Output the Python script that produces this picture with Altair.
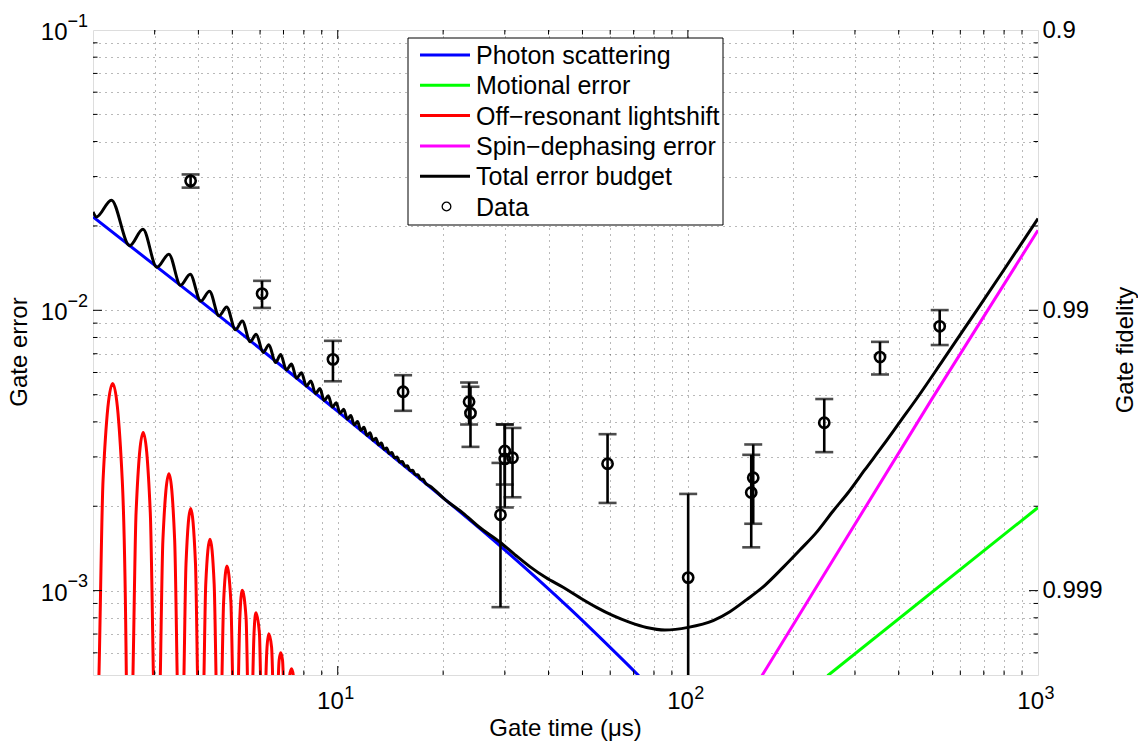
import altair as alt
import pandas as pd

# ---------------- data ----------------
x_domain = [2, 1000]
y_domain = [5e-4, 0.1]

photon_t = [2.0, 4.034, 10.0, 17.15, 29.03, 46.02, 72.44]
photon_e = [0.02153, 0.01085, 4.357e-3, 2.512e-3, 1.447e-3, 8.62e-4, 4.97e-4]

motional_t = [250.6, 1000]
motional_e = [4.97e-4, 1.98e-3]

dephasing_t = [162.7, 496.9, 1000]
dephasing_e = [4.97e-4, 4.81e-3, 0.0193]

lightshift_t = [2.0, 2.080, 2.137, 2.276, 2.424, 2.490, 2.512, 2.601, 2.655, 2.782, 2.915, 2.975,
                3.044, 3.114, 3.167, 3.296, 3.422, 3.479, 3.557, 3.638, 3.687, 3.802, 3.924, 3.976,
                4.061, 4.150, 4.198, 4.317, 4.437, 4.491, 4.581, 4.672, 4.721, 4.825, 4.953, 5.006,
                5.105, 5.208, 5.252, 5.335, 5.474, 5.521, 5.623, 5.724, 5.767, 5.838, 5.975, 6.017,
                6.125, 6.238, 6.281, 6.355, 6.473, 6.516, 6.642, 6.770, 6.802, 6.873, 6.955, 6.988,
                7.134, 7.294, 7.379, 7.463, 7.6]
lightshift_e = [1e-4, 5e-4, 2.487e-3, 5.487e-3, 2.487e-3, 5e-4, 1e-4, 5e-4, 1.899e-3, 3.666e-3, 1.899e-3, 5e-4,
                1e-4, 5e-4, 1.512e-3, 2.611e-3, 1.512e-3, 5e-4, 1e-4, 5e-4, 1.248e-3, 1.963e-3, 1.248e-3, 5e-4,
                1e-4, 5e-4, 1.055e-3, 1.525e-3, 1.055e-3, 5e-4, 1e-4, 5e-4, 9.10e-4, 1.223e-3, 9.10e-4, 5e-4,
                1e-4, 5e-4, 7.96e-4, 1.0025e-3, 7.96e-4, 5e-4, 1e-4, 5e-4, 7.05e-4, 8.345e-4, 7.05e-4, 5e-4,
                1e-4, 5e-4, 6.27e-4, 7.02e-4, 6.27e-4, 5e-4, 1e-4, 5e-4, 5.65e-4, 6.007e-4, 5.65e-4, 5e-4,
                1e-4, 5e-4, 5.265e-4, 5e-4, 1e-4]

total_t = [2.000, 2.045, 2.257, 2.545, 2.778, 3.044, 3.294, 3.557, 3.790, 4.061,
           4.302, 4.581, 4.818, 5.105, 5.338, 5.623, 5.850, 6.125, 6.359, 6.642,
           6.873, 7.134, 7.379, 7.626, 7.881, 8.134, 8.383, 8.641, 8.895, 9.149,
           9.400, 9.651, 9.902, 10.153, 10.402, 10.651, 10.899, 11.147, 11.390, 11.632,
           11.880, 12.125, 12.367, 12.605, 12.849, 13.088, 13.322, 13.56, 13.796, 14.03,
           14.275, 14.52, 14.77, 15.03, 15.29, 15.55, 15.82, 16.09, 16.37, 16.65,
           16.94, 17.23, 17.53, 17.83,
           18.32, 20.35, 22.80, 25.45, 29.03, 32.04, 35.38, 39.29, 44.02,
           49.13, 54.84, 61.17, 68.29, 76.21, 85.97, 100.2, 118.1, 131.8, 147.2,
           166.0, 186.8, 208.9, 233.7, 259.6, 287.1, 320.4, 360.8, 403.4, 450.1,
           535.4, 639.2, 799.6, 1000]
total_e = [0.02244, 0.02154, 0.02471, 0.01700, 0.01947, 0.014237, 0.015849, 0.012284, 0.013446, 0.010786,
           0.011692, 9.559e-3, 0.010275, 8.525e-3, 9.158e-3, 7.731e-3, 8.210e-3, 7.070e-3, 7.543e-3, 6.510e-3,
           6.949e-3, 6.125e-3, 6.429e-3, 5.727e-3, 5.991e-3, 5.365e-3, 5.600e-3, 5.044e-3, 5.256e-3, 4.767e-3,
           4.955e-3, 4.515e-3, 4.682e-3, 4.291e-3, 4.434e-3, 4.088e-3, 4.211e-3, 3.901e-3, 4.009e-3, 3.734e-3,
           3.824e-3, 3.578e-3, 3.655e-3, 3.439e-3, 3.499e-3, 3.311e-3, 3.360e-3, 3.194e-3, 3.228e-3, 3.083e-3,
           3.111e-3, 2.978e-3, 3.000e-3, 2.874e-3, 2.891e-3, 2.777e-3, 2.788e-3, 2.680e-3, 2.687e-3, 2.590e-3,
           2.592e-3, 2.500e-3, 2.495e-3, 2.413e-3,
           2.361e-3, 2.104e-3, 1.891e-3, 1.679e-3, 1.491e-3, 1.345e-3, 1.218e-3, 1.113e-3, 1.0275e-3,
           9.44e-4, 8.717e-4, 8.14e-4, 7.706e-4, 7.39e-4, 7.238e-4, 7.395e-4, 7.815e-4, 8.41e-4, 9.288e-4,
           1.045e-3, 1.208e-3, 1.396e-3, 1.62e-3, 1.92e-3, 2.239e-3, 2.70e-3, 3.295e-3, 4.0e-3, 4.836e-3,
           6.64e-3, 9.21e-3, 0.01395, 0.02126]

data_t = [3.80, 6.08, 9.69, 15.37, 23.72, 23.94, 29.16, 30.0, 30.0, 31.56,
          58.97, 100.2, 151.7, 153.7, 245.2, 353.8, 523.9]
data_e = [0.02896, 0.01147, 6.683e-3, 5.124e-3, 4.72e-3, 4.297e-3, 1.864e-3, 3.15e-3, 2.95e-3, 2.979e-3,
          2.835e-3, 1.113e-3, 2.239e-3, 2.527e-3, 3.972e-3, 6.81e-3, 8.768e-3]
data_u = [1.57e-3, 1.27e-3, 1.10e-3, 0.744e-3, 0.806e-3, 1.04e-3, 0.991e-3, 0.76e-3, 0.97e-3, 0.826e-3,
          0.78e-3, 1.10e-3, 0.812e-3, 0.795e-3, 0.853e-3, 0.907e-3, 1.25e-3]

x_major = [10, 100, 1000]
x_major_exp = ["1", "2", "3"]
x_minor = [3, 4, 5, 6, 7, 8, 9, 20, 30, 40, 50, 60, 70, 80, 90, 200, 300, 400, 500, 600, 700, 800, 900]
y_major = [1e-3, 1e-2, 1e-1]
y_major_exp = ["\u22123", "\u22122", "\u22121"]
y_minor = [6e-4, 7e-4, 8e-4, 9e-4, 2e-3, 3e-3, 4e-3, 5e-3, 6e-3, 7e-3, 8e-3, 9e-3,
           2e-2, 3e-2, 4e-2, 5e-2, 6e-2, 7e-2, 8e-2, 9e-2]
fidelity_labels = ["0.999", "0.99", "0.9"]

legend_labels = ["Photon scattering", "Motional error", "Off\u2212resonant lightshift",
                 "Spin\u2212dephasing error", "Total error budget", "Data"]
legend_colors = ["#0000ff", "#00ff00", "#ff0000", "#ff00ff", "#000000", "#000000"]

# ---------------- chart ----------------
W, H = 945, 645
FONT = "Liberation Sans"

xs = alt.Scale(type="log", domain=x_domain, nice=False)
ys = alt.Scale(type="log", domain=y_domain, nice=False)
grid_props = dict(grid=True, gridDash=[1, 5], gridColor="#000000", gridOpacity=0.55, gridWidth=1,
                  labels=False, ticks=False, domain=False, title=None)
x_grid_vals = [v for v in x_minor + x_major if v < x_domain[1]]
y_grid_vals = [v for v in y_minor + y_major if v < y_domain[1]]
xax = alt.Axis(values=x_grid_vals, **grid_props)
yax = alt.Axis(values=y_grid_vals, **grid_props)


def X(f="t"):
    return alt.X(f"{f}:Q", scale=xs, axis=xax)


def Y(f="e"):
    return alt.Y(f"{f}:Q", scale=ys, axis=yax)


def frame(t, e):
    return pd.DataFrame({"t": t, "e": e})


def curve(t, e, color):
    return alt.Chart(frame(t, e)).mark_line(
        color=color, strokeWidth=3, clip=True, interpolate="monotone"
    ).encode(x=X(), y=Y())


layers = [
    curve(photon_t, photon_e, legend_colors[0]),
    curve(motional_t, motional_e, legend_colors[1]),
    curve(lightshift_t, lightshift_e, legend_colors[2]),
    curve(dephasing_t, dephasing_e, legend_colors[3]),
    curve(total_t, total_e, legend_colors[4]),
]

pts = pd.DataFrame({"t": data_t, "e": data_e, "u": data_u})
pts["lo"] = pts["e"] - pts["u"]
pts["hi"] = pts["e"] + pts["u"]

layers.append(alt.Chart(pts).mark_rule(color="black", strokeWidth=2.6, clip=True).encode(
    x=X(), y=Y("lo"), y2="hi:Q"))
layers.append(alt.Chart(pts).mark_tick(color="black", orient="horizontal", size=18, thickness=2.6,
                                       clip=True).encode(x=X(), y=Y("hi")))
layers.append(alt.Chart(pts).mark_tick(color="black", orient="horizontal", size=18, thickness=2.6,
                                       clip=True).encode(x=X(), y=Y("lo")))
layers.append(alt.Chart(pts).mark_point(shape="circle", filled=False, color="black", size=105,
                                        strokeWidth=2.6, opacity=1).encode(x=X(), y=Y("e")))

# inward ticks on all four sides
for maj, size in ((True, 9), (False, 4.5)):
    xv = x_major[:-1] if maj else x_minor
    yv = y_major[:-1] if maj else y_minor
    xd = pd.DataFrame({"t": xv})
    yd = pd.DataFrame({"e": yv})
    layers.append(alt.Chart(xd).mark_rule(color="black", strokeWidth=1).encode(
        x=X(), y=alt.value(H), y2=alt.value(H - size)))
    layers.append(alt.Chart(xd).mark_rule(color="black", strokeWidth=1).encode(
        x=X(), y=alt.value(0), y2=alt.value(size)))
    layers.append(alt.Chart(yd).mark_rule(color="black", strokeWidth=1).encode(
        y=Y(), x=alt.value(0), x2=alt.value(size)))
    layers.append(alt.Chart(yd).mark_rule(color="black", strokeWidth=1).encode(
        y=Y(), x=alt.value(W), x2=alt.value(W - size)))

# tick labels with superscript exponents
xl = pd.DataFrame({"t": x_major, "exp": x_major_exp})
yl = pd.DataFrame({"e": y_major, "exp": y_major_exp})
layers.append(alt.Chart(xl).mark_text(text="10", align="right", baseline="alphabetic", fontSize=24,
                                      font=FONT, dx=6).encode(x=X(), y=alt.value(H + 34)))
layers.append(alt.Chart(xl).mark_text(align="left", baseline="alphabetic", fontSize=18, font=FONT,
                                      dx=6.5).encode(x=X(), y=alt.value(H + 24), text="exp:N"))
layers.append(alt.Chart(yl).mark_text(text="10", align="right", baseline="alphabetic", fontSize=24,
                                      font=FONT, dy=10).encode(x=alt.value(-25.5), y=Y()))
layers.append(alt.Chart(yl).mark_text(align="left", baseline="alphabetic", fontSize=18, font=FONT,
                                      dy=-3.5).encode(x=alt.value(-25.5), y=Y(), text="exp:N"))

# axis titles
one = pd.DataFrame({"k": [0]})
layers.append(alt.Chart(one).mark_text(text="Gate time (\u03bcs)", fontSize=24, font=FONT, align="center",
                                       baseline="alphabetic").encode(x=alt.value(W / 2), y=alt.value(H + 61)))
layers.append(alt.Chart(one).mark_text(text="Gate error", fontSize=24, font=FONT, align="center",
                                       baseline="alphabetic", angle=270).encode(x=alt.value(-66), y=alt.value(322)))
layers.append(alt.Chart(one).mark_text(text="Gate fidelity", fontSize=24, font=FONT, align="center",
                                       baseline="alphabetic", angle=270).encode(x=alt.value(1040), y=alt.value(320)))

# legend box
LX0, LX1, LY0, LY1 = 315, 630, 8, 195
layers.append(alt.Chart(one).mark_rect(fill="white", stroke="black", strokeWidth=1).encode(
    x=alt.value(LX0), x2=alt.value(LX1), y=alt.value(LY0), y2=alt.value(LY1)))
row_y = [25, 55.3, 85.6, 115.9, 146.2, 176.5]
for i, (lab, col) in enumerate(zip(legend_labels, legend_colors)):
    if lab == "Data":
        layers.append(alt.Chart(one).mark_point(shape="circle", filled=False, color=col, size=75,
                                                strokeWidth=1.3, opacity=1).encode(
            x=alt.value(353.5), y=alt.value(row_y[i])))
    else:
        layers.append(alt.Chart(one).mark_rule(color=col, strokeWidth=3).encode(
            x=alt.value(327), x2=alt.value(377), y=alt.value(row_y[i])))
    layers.append(alt.Chart(one).mark_text(text=lab, fontSize=25, font=FONT, align="left",
                                           baseline="alphabetic").encode(
        x=alt.value(383), y=alt.value(row_y[i] + 9)))

main = alt.layer(*layers)

# right axis: fidelity = 1 - error
fid = pd.DataFrame({"e": y_major})
expr = " : ".join(
    [f"datum.value < {v * 1.5} ? '{lab}'" for v, lab in zip(y_major[:-1], fidelity_labels[:-1])]
) + f" : '{fidelity_labels[-1]}'"
right = alt.Chart(fid).mark_point(opacity=0).encode(
    x=alt.value(0),
    y=alt.Y("e:Q", scale=alt.Scale(type="log", domain=y_domain, nice=False),
            axis=alt.Axis(orient="right", values=y_major, labelExpr=expr, grid=False, ticks=False,
                          tickSize=0, domain=False, title=None, labelFontSize=24, labelFont=FONT,
                          labelColor="black", labelPadding=4, labelBaseline="middle", labelAlign="left",
                          labelFlush=False, labelOverlap=False)),
)

chart = alt.layer(main, right).resolve_scale(y="independent").properties(
    width=W, height=H,
    autosize=alt.AutoSizeParams(type="none"),
    padding={"left": 93, "top": 30, "right": 100, "bottom": 67},
    background="white",
).configure_view(stroke="black", strokeWidth=1.2).configure(font=FONT)

chart.save("out.html", embed_options={"renderer": "svg", "actions": False})
